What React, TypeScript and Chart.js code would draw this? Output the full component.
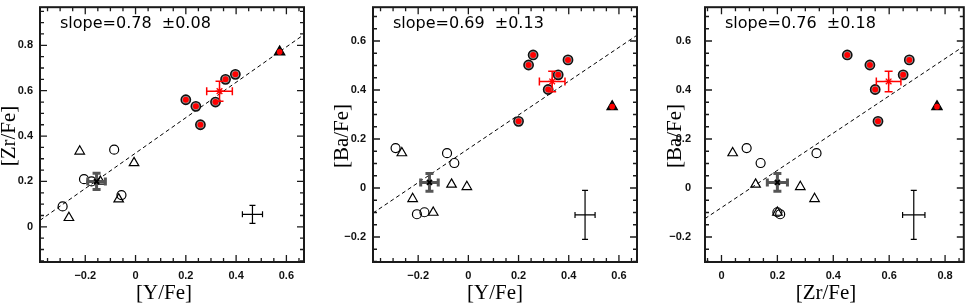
import React, { useEffect, useRef } from 'react';
import { Chart, registerables } from 'chart.js';

Chart.register(...registerables);

// ---------------- data ----------------
// open circles
const yFeOpenCircles = [-0.29, -0.205, -0.175, -0.085, -0.056];
const zrFeOpenCircles = [0.09, 0.21, 0.2, 0.34, 0.14];
const baFeOpenCircles = [0.163, -0.107, -0.099, 0.142, 0.102];

// open triangles
const yFeOpenTriangles = [-0.265, -0.222, -0.14, -0.067, -0.006];
const zrFeOpenTriangles = [0.04, 0.333, 0.2, 0.122, 0.282];
const baFeOpenTriangles = [0.143, -0.044, -0.1, 0.015, 0.005];

// red-filled circles
const yFeRedCircles = [0.2, 0.24, 0.258, 0.318, 0.358, 0.397];
const zrFeRedCircles = [0.56, 0.531, 0.45, 0.55, 0.65, 0.672];
const baFeRedCircles = [0.272, 0.502, 0.543, 0.402, 0.462, 0.523];

// red-filled triangle
const yFeRedTriangle = [0.573];
const zrFeRedTriangle = [0.771];
const baFeRedTriangle = [0.332];

// group means with errors
const meanBlack = { y: -0.155, zr: 0.2, ba: 0.023 };
const meanBlackErr = { y: 0.035, zr: 0.036, ba: 0.036 };
const meanRed = { y: 0.334, zr: 0.598, ba: 0.435 };
const meanRedErr = { y: 0.051, zr: 0.044, ba: 0.042 };

// typical error bars (position per panel, size per element)
const typicalPosPanel1 = [0.465, 0.055];
const typicalPosPanel2 = [0.465, -0.11];
const typicalPosPanel3 = [0.688, -0.11];
const typicalErr = { y: 0.04, zr: 0.04, ba: 0.1 };

// fits
const fitSlopes = [0.78, 0.69, 0.76];
const fitSlopeErrors = [0.08, 0.13, 0.18];
const fitIntercepts = [0.325, 0.16, -0.08];

// axes
const xRanges = [[-0.38, 0.67], [-0.38, 0.672], [-0.059, 0.867]];
const yRanges = [[-0.155, 0.968], [-0.302, 0.738], [-0.302, 0.738]];
const xTickValues = [[-0.2, 0, 0.2, 0.4, 0.6], [-0.2, 0, 0.2, 0.4, 0.6], [0, 0.2, 0.4, 0.6, 0.8]];
const yTickValues = [[0, 0.2, 0.4, 0.6, 0.8], [-0.2, 0, 0.2, 0.4, 0.6], [-0.2, 0, 0.2, 0.4, 0.6]];
const xTitles = ['[Y/Fe]', '[Y/Fe]', '[Zr/Fe]'];
const yTitles = ['[Zr/Fe]', '[Ba/Fe]', '[Ba/Fe]'];

// ---------------- helpers ----------------
const pts = (xs: number[], ys: number[]) => xs.map((x, i) => ({ x, y: ys[i] }));
const fmt = (v: number) => (Math.abs(v) < 1e-9 ? '0' : (v < 0 ? '\u2212' : '') + Math.abs(v).toFixed(1));

const errorBarPlugin = {
  id: 'errbars',
  beforeDatasetDraw(chart: any, args: any) {
    const ds: any = chart.data.datasets[args.index];
    if (!ds.errX) return;
    const { ctx, scales } = chart;
    const xs = scales.x;
    const ys = scales.y;
    ctx.save();
    ctx.strokeStyle = ds.errColor;
    ctx.lineWidth = ds.errWidth;
    ctx.lineCap = 'butt';
    ds.data.forEach((p: any, i: number) => {
      const ex = ds.errX[i];
      const ey = ds.errY[i];
      const cx = xs.getPixelForValue(p.x);
      const cy = ys.getPixelForValue(p.y);
      const x0 = xs.getPixelForValue(p.x - ex);
      const x1 = xs.getPixelForValue(p.x + ex);
      const y0 = ys.getPixelForValue(p.y - ey);
      const y1 = ys.getPixelForValue(p.y + ey);
      const c = ds.capSize / 2;
      ctx.beginPath();
      ctx.moveTo(x0, cy); ctx.lineTo(x1, cy);
      ctx.moveTo(cx, y0); ctx.lineTo(cx, y1);
      ctx.moveTo(x0, cy - c); ctx.lineTo(x0, cy + c);
      ctx.moveTo(x1, cy - c); ctx.lineTo(x1, cy + c);
      ctx.moveTo(cx - c, y0); ctx.lineTo(cx + c, y0);
      ctx.moveTo(cx - c, y1); ctx.lineTo(cx + c, y1);
      ctx.stroke();
    });
    ctx.restore();
  },
};

const decorPlugin = {
  id: 'decor',
  afterDraw(chart: any, _a: any, o: any) {
    const { ctx, chartArea: a, scales } = chart;
    ctx.save();
    ctx.strokeStyle = '#1a1a1a';
    ctx.lineWidth = 1.3;
    const minor = 0.05;
    const drawAxisTicks = (scale: any, majors: number[], horiz: boolean) => {
      const start = Math.ceil(scale.min / minor - 1e-6) * minor;
      for (let v = start; v <= scale.max + 1e-9; v += minor) {
        const isMajor = majors.some((m) => Math.abs(m - v) < 1e-6);
        const len = isMajor ? 7 : 4;
        const p = scale.getPixelForValue(v);
        ctx.beginPath();
        if (horiz) {
          ctx.moveTo(p, a.bottom); ctx.lineTo(p, a.bottom - len);
          ctx.moveTo(p, a.top); ctx.lineTo(p, a.top + len);
        } else {
          ctx.moveTo(a.left, p); ctx.lineTo(a.left + len, p);
          ctx.moveTo(a.right, p); ctx.lineTo(a.right - len, p);
        }
        ctx.stroke();
      }
    };
    drawAxisTicks(scales.x, o.xTicks, true);
    drawAxisTicks(scales.y, o.yTicks, false);
    ctx.lineWidth = 2;
    ctx.strokeRect(a.left, a.top, a.right - a.left, a.bottom - a.top);

    ctx.fillStyle = '#000';
    ctx.font = '16px "DejaVu Sans"';
    ctx.textAlign = 'left';
    ctx.textBaseline = 'alphabetic';
    ctx.fillText(o.slopeText, a.left + 20, a.top + 21);

    ctx.font = '21px "Liberation Serif"';
    ctx.textAlign = 'center';
    ctx.textBaseline = 'middle';
    ctx.fillText(o.xTitle, o.xTitleX, o.xTitleY);
    ctx.translate(o.yTitleX, o.yTitleY);
    ctx.rotate(-Math.PI / 2);
    ctx.fillText(o.yTitle, 0, 0);
    ctx.restore();
  },
};

type PanelCfg = {
  idx: number;
  left: number;
  width: number;
  yAxisW: number;
  padRight: number;
  yLabelPad: number;
  xTitleX: number;
  yTitleX: number;
  openC: { x: number; y: number }[];
  openT: { x: number; y: number }[];
  redC: { x: number; y: number }[];
  redT: { x: number; y: number }[];
  mBlack: { x: number; y: number };
  mBlackErr: [number, number];
  mRed: { x: number; y: number };
  mRedErr: [number, number];
  typ: number[];
  typErr: [number, number];
};

const panels: PanelCfg[] = [
  {
    idx: 0, left: 0, width: 325, yAxisW: 40, padRight: 21, yLabelPad: 7, xTitleX: 164, yTitleX: 9,
    openC: pts(yFeOpenCircles, zrFeOpenCircles),
    openT: pts(yFeOpenTriangles, zrFeOpenTriangles),
    redC: pts(yFeRedCircles, zrFeRedCircles),
    redT: pts(yFeRedTriangle, zrFeRedTriangle),
    mBlack: { x: meanBlack.y, y: meanBlack.zr }, mBlackErr: [meanBlackErr.y, meanBlackErr.zr],
    mRed: { x: meanRed.y, y: meanRed.zr }, mRedErr: [meanRedErr.y, meanRedErr.zr],
    typ: typicalPosPanel1, typErr: [typicalErr.y, typicalErr.zr],
  },
  {
    idx: 1, left: 325, width: 320, yAxisW: 48, padRight: 8, yLabelPad: 7, xTitleX: 170, yTitleX: 17.5,
    openC: pts(yFeOpenCircles, baFeOpenCircles),
    openT: pts(yFeOpenTriangles, baFeOpenTriangles),
    redC: pts(yFeRedCircles, baFeRedCircles),
    redT: pts(yFeRedTriangle, baFeRedTriangle),
    mBlack: { x: meanBlack.y, y: meanBlack.ba }, mBlackErr: [meanBlackErr.y, meanBlackErr.ba],
    mRed: { x: meanRed.y, y: meanRed.ba }, mRedErr: [meanRedErr.y, meanRedErr.ba],
    typ: typicalPosPanel2, typErr: [typicalErr.y, typicalErr.ba],
  },
  {
    idx: 2, left: 645, width: 326, yAxisW: 60, padRight: 3, yLabelPad: 14, xTitleX: 181, yTitleX: 30,
    openC: pts(zrFeOpenCircles, baFeOpenCircles),
    openT: pts(zrFeOpenTriangles, baFeOpenTriangles),
    redC: pts(zrFeRedCircles, baFeRedCircles),
    redT: pts(zrFeRedTriangle, baFeRedTriangle),
    mBlack: { x: meanBlack.zr, y: meanBlack.ba }, mBlackErr: [meanBlackErr.zr, meanBlackErr.ba],
    mRed: { x: meanRed.zr, y: meanRed.ba }, mRedErr: [meanRedErr.zr, meanRedErr.ba],
    typ: typicalPosPanel3, typErr: [typicalErr.zr, typicalErr.ba],
  },
];

const tickFont = { family: '"Liberation Sans", Arial, sans-serif', size: 11, weight: 'bold' };

function Panel({ cfg }: { cfg: PanelCfg }) {
  const ref = useRef<HTMLCanvasElement>(null);
  useEffect(() => {
    const i = cfg.idx;
    const [xmin, xmax] = xRanges[i];
    const [ymin, ymax] = yRanges[i];
    const fitLine = [xmin, xmax].map((x) => ({ x, y: fitSlopes[i] * x + fitIntercepts[i] }));
    const chart = new Chart(ref.current as HTMLCanvasElement, {
      type: 'scatter',
      data: {
        datasets: [
          {
            type: 'line', data: fitLine, borderColor: '#000', borderWidth: 1, borderDash: [4, 3],
            pointRadius: 0, fill: false, order: 20,
          } as any,
          {
            data: [{ x: cfg.typ[0], y: cfg.typ[1] }], pointRadius: 0, order: 15,
            errX: [cfg.typErr[0]], errY: [cfg.typErr[1]], errColor: '#000', errWidth: 1.2, capSize: 6,
          } as any,
          {
            data: cfg.openC, pointStyle: 'circle', pointRadius: 4.5, borderColor: '#000', borderWidth: 1.2,
            backgroundColor: 'rgba(0,0,0,0)', order: 12,
          },
          {
            data: cfg.openT, pointStyle: 'triangle', pointRadius: 5.5, borderColor: '#000', borderWidth: 1.2,
            backgroundColor: 'rgba(0,0,0,0)', order: 11,
          },
          {
            data: cfg.redC, pointStyle: 'circle', pointRadius: 4.6, borderColor: '#111', borderWidth: 1.6,
            backgroundColor: '#9a9a9a', order: 10,
          },
          {
            data: cfg.redC, pointStyle: 'circle', pointRadius: 3, borderWidth: 0,
            backgroundColor: '#ff0000', order: 9,
          },
          {
            data: cfg.redT, pointStyle: 'triangle', pointRadius: 6, borderColor: '#000', borderWidth: 1.2,
            backgroundColor: '#111', order: 8,
          },
          {
            data: cfg.redT, pointStyle: 'circle', pointRadius: 2.8, borderWidth: 0,
            backgroundColor: '#ff0000', order: 7,
          },
          {
            data: [cfg.mBlack], pointStyle: 'crossRot', pointRadius: 3.5, borderColor: '#000', borderWidth: 2,
            order: 5, errX: [cfg.mBlackErr[0]], errY: [cfg.mBlackErr[1]], errColor: '#555', errWidth: 3, capSize: 8,
          } as any,
          {
            data: [cfg.mRed], pointStyle: 'star', pointRadius: 4, borderColor: '#ff0000', borderWidth: 1.3,
            order: 4, errX: [cfg.mRedErr[0]], errY: [cfg.mRedErr[1]], errColor: '#ff0000', errWidth: 1.5, capSize: 8,
          } as any,
        ],
      },
      options: {
        responsive: false,
        animation: false,
        events: [],
        layout: { padding: { left: 0, top: 1, right: cfg.padRight, bottom: 0 } },
        plugins: {
          legend: { display: false },
          tooltip: { enabled: false },
          decor: {
            xTicks: xTickValues[i], yTicks: yTickValues[i],
            slopeText: `slope=${fitSlopes[i].toFixed(2)}  \u00b1${fitSlopeErrors[i].toFixed(2)}`,
            xTitle: xTitles[i], yTitle: yTitles[i],
            xTitleX: cfg.xTitleX, xTitleY: 293, yTitleX: cfg.yTitleX, yTitleY: 136,
          },
        } as any,
        scales: {
          x: {
            type: 'linear', min: xmin, max: xmax,
            afterBuildTicks: (s: any) => { s.ticks = xTickValues[i].map((v) => ({ value: v })); },
            afterFit: (s: any) => { s.height = 42; s.paddingLeft = 0; s.paddingRight = 0; },
            grid: { display: false, drawTicks: false },
            border: { display: false },
            ticks: { padding: 7, font: tickFont, color: '#111', callback: (v: any) => fmt(Number(v)), maxRotation: 0, autoSkip: false },
          },
          y: {
            type: 'linear', min: ymin, max: ymax,
            afterBuildTicks: (s: any) => { s.ticks = yTickValues[i].map((v) => ({ value: v })); },
            afterFit: (s: any) => { s.width = cfg.yAxisW; s.paddingTop = 0; s.paddingBottom = 0; },
            grid: { display: false, drawTicks: false },
            border: { display: false },
            ticks: { padding: cfg.yLabelPad, font: tickFont, color: '#111', callback: (v: any) => fmt(Number(v)), autoSkip: false },
          },
        },
      },
      plugins: [errorBarPlugin, decorPlugin],
    } as any);
    return () => chart.destroy();
  }, []);
  return (
    <canvas
      ref={ref}
      width={cfg.width}
      height={304}
      style={{ position: 'absolute', left: cfg.left, top: 0, width: cfg.width, height: 304 }}
    />
  );
}

export default function App() {
  return (
    <div style={{ position: 'fixed', left: 0, top: 0, width: 971, height: 304, background: '#fff', overflow: 'hidden' }}>
      {panels.map((p) => (
        <Panel key={p.idx} cfg={p} />
      ))}
    </div>
  );
}
